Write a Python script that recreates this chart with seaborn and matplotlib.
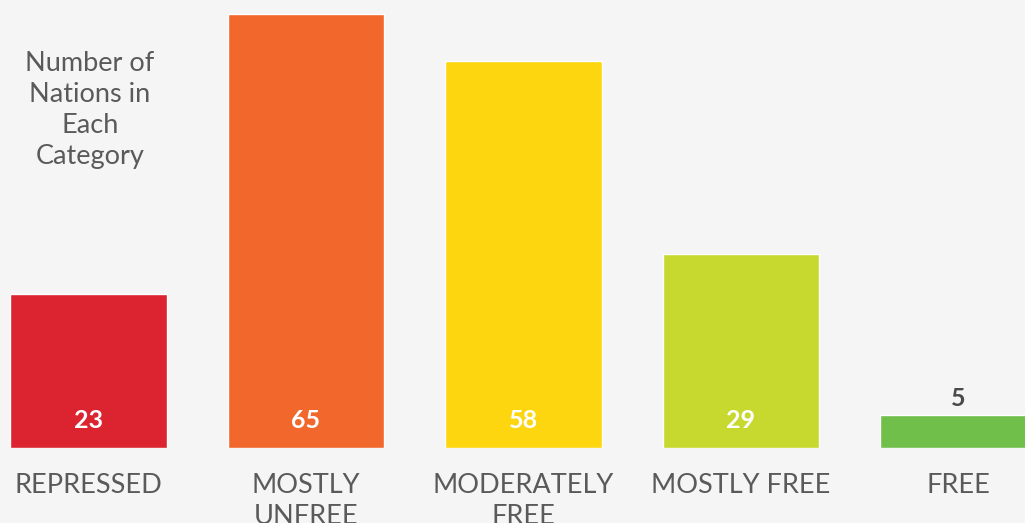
import matplotlib
matplotlib.use('Agg')
import matplotlib.pyplot as plt
import seaborn as sns
import pandas as pd

categories = ['REPRESSED', 'MOSTLY\nUNFREE', 'MODERATELY\nFREE', 'MOSTLY FREE', 'FREE']
counts = [23, 65, 58, 29, 5]
colors = ['#dc2430', '#f1672c', '#fed60f', '#c7d92f', '#70bf4a']

df = pd.DataFrame({'category': categories, 'count': counts})

sns.set_style('white')
plt.rcParams['font.family'] = ['Lato', 'DejaVu Sans']

bg = '#f5f5f5'
fig = plt.figure(figsize=(10.25, 5.23), dpi=100, facecolor=bg)
ax = fig.add_axes([0, 75 / 523, 1, 448 / 523])
ax.set_facecolor(bg)

sns.barplot(data=df, x='category', y='count', hue='category', palette=colors,
            width=0.72, legend=False, ax=ax, saturation=1)

ax.set_xlim(-0.407, 4.306)
ax.set_ylim(0, 67.07)
ax.axis('off')

for i, (cat, val) in enumerate(zip(categories, counts)):
    if val > 10:
        ax.text(i, 3.0, str(val), ha='center', va='baseline', color='white',
                fontsize=18, fontweight='bold')
    else:
        ax.text(i, val + 1.3, str(val), ha='center', va='baseline', color='#4a4a4a',
                fontsize=18, fontweight='bold')
    ax.text(i, -3.7, cat, ha='center', va='top', color='#5a5a5a', fontsize=19.5,
            fontweight='normal', linespacing=1.3, clip_on=False)

fig.text(90 / 1025, 1 - 51 / 523, 'Number of\nNations in\nEach\nCategory', ha='center', va='top',
         color='#5a5a5a', fontsize=19.5, fontweight='normal', linespacing=1.3)

fig.savefig('out.png', dpi=100, facecolor=bg)
